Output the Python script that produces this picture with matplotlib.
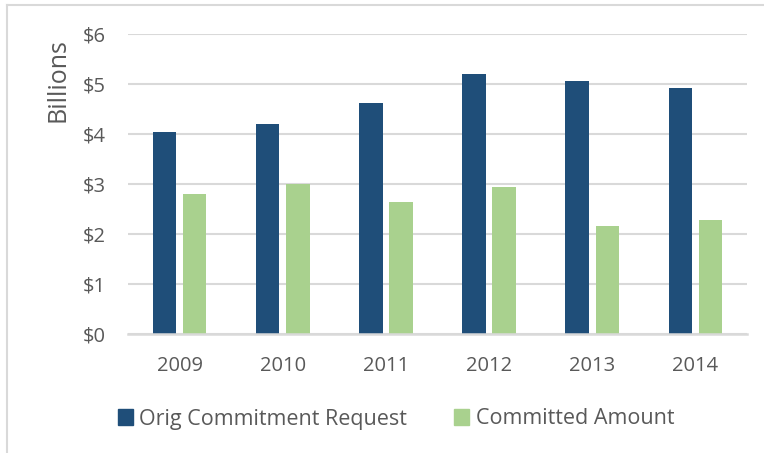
import matplotlib
matplotlib.use("Agg")
import matplotlib.pyplot as plt
import numpy as np
from matplotlib.lines import Line2D
from matplotlib.patches import Patch

years = ["2009", "2010", "2011", "2012", "2013", "2014"]
orig_request = [4.05, 4.21, 4.63, 5.21, 5.07, 4.92]
committed = [2.81, 3.00, 2.64, 2.95, 2.17, 2.29]
yticks = [0, 1, 2, 3, 4, 5, 6]
ytick_labels = ["$0", "$1", "$2", "$3", "$4", "$5", "$6"]

plt.rcParams['font.family'] = ['Open Sans', 'DejaVu Sans']
txt = "#595959"
blue = "#1F4E79"
green = "#A9D18E"

fig = plt.figure(figsize=(7.64, 4.53), dpi=100)
ax = fig.add_axes([128/764, 1-334/453, (747-128)/764, 300/453])

x = np.arange(len(years))
w = 0.228
off = 0.146
ax.bar(x - off, orig_request, w, color=blue, zorder=3)
ax.bar(x + off, committed, w, color=green, zorder=3)

ax.set_xlim(-0.5, 5.5)
ax.set_ylim(0, 6)
ax.set_yticks(yticks)
ax.set_yticklabels(ytick_labels)
ax.set_xticks(x)
ax.set_xticklabels(years)
ax.tick_params(axis='both', length=0, labelsize=14.5, colors=txt)
ax.tick_params(axis='y', pad=16)
ax.tick_params(axis='x', pad=16)
ax.yaxis.grid(True, color="#d9d9d9", linewidth=1.5, zorder=0)
for s in ["top", "right", "left"]:
    ax.spines[s].set_visible(False)
ax.spines["bottom"].set_color("#d9d9d9")
ax.spines["bottom"].set_linewidth(1.8)
ax.spines["bottom"].set_zorder(4)

fig.text(58/764, 1-80/453, "Billions", rotation=90, ha='center', va='center',
         fontsize=18, color=txt)

handles = [Patch(color=blue, label="Orig Commitment Request"),
           Patch(color=green, label="Committed Amount")]
fig.legend(handles=handles, loc='center', bbox_to_anchor=(396/764, 1-419/453),
           ncol=2, frameon=False, fontsize=15.5, labelcolor=txt,
           handlelength=0.7, handleheight=0.7, handletextpad=0.3, columnspacing=2.2)

fig.add_artist(Line2D([7/764, 7/764], [0, 1-5/453], transform=fig.transFigure, color="#d9d9d9", linewidth=1.5))
fig.add_artist(Line2D([7/764, 1], [1-5/453, 1-5/453], transform=fig.transFigure, color="#d9d9d9", linewidth=1.5))

fig.savefig("out.png", dpi=100)
